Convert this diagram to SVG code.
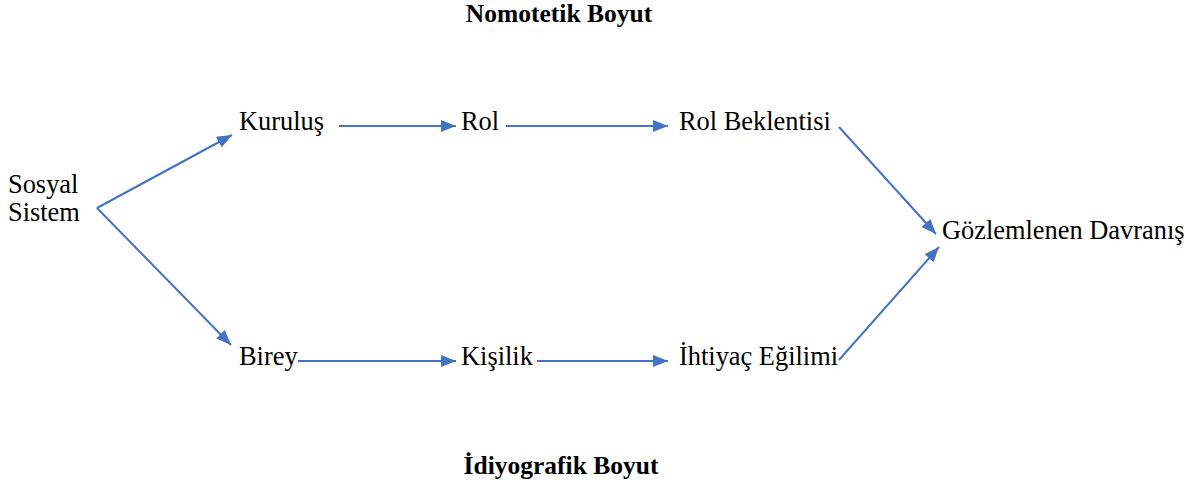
<svg xmlns="http://www.w3.org/2000/svg" width="1192" height="486" viewBox="0 0 1192 486">
<style>
.conn line{stroke:#4472C4;stroke-width:2;fill:none;marker-end:url(#ah)}
</style>
<defs>
<marker id="ah" markerUnits="userSpaceOnUse" markerWidth="16" markerHeight="12" refX="15" refY="6" orient="auto">
<path d="M0,0 L15,6 L0,12 Z" fill="#4472C4"/>
</marker>
</defs>
<rect width="1192" height="486" fill="#fff"/>
<g font-family="Liberation Serif, Times New Roman, serif" font-size="26.4" fill="#000">
<g font-weight="bold" text-anchor="middle" font-size="25.5">
<text x="559" y="22">Nomotetik Boyut</text>
<text x="561" y="474">İdiyografik Boyut</text>
</g>
<g id="sosyal"><text x="8" y="193">Sosyal</text><text x="8" y="221">Sistem</text></g>
<g id="kurulus"><text x="239" y="130">Kuruluş</text></g>
<g id="rol"><text x="461" y="130">Rol</text></g>
<g id="rolbek"><text x="679" y="130">Rol Beklentisi</text></g>
<g id="gozlem"><text x="942" y="239">Gözlemlenen Davranış</text></g>
<g id="birey"><text x="239" y="365">Birey</text></g>
<g id="kisilik"><text x="461" y="365">Kişilik</text></g>
<g id="ihtiyac"><text x="679" y="365">İhtiyaç Eğilimi</text></g>
</g>
<g class="conn" id="connectors">
<line x1="97" y1="208" x2="232" y2="135"/>
<line x1="97" y1="208" x2="231" y2="345"/>
<line x1="339" y1="126" x2="456" y2="126"/>
<line x1="506" y1="126" x2="668" y2="126"/>
<line x1="839" y1="127" x2="936" y2="234"/>
<line x1="839" y1="360" x2="939" y2="247"/>
<line x1="298" y1="361" x2="456" y2="361"/>
<line x1="537" y1="361" x2="668" y2="361"/>
</g>
</svg>
